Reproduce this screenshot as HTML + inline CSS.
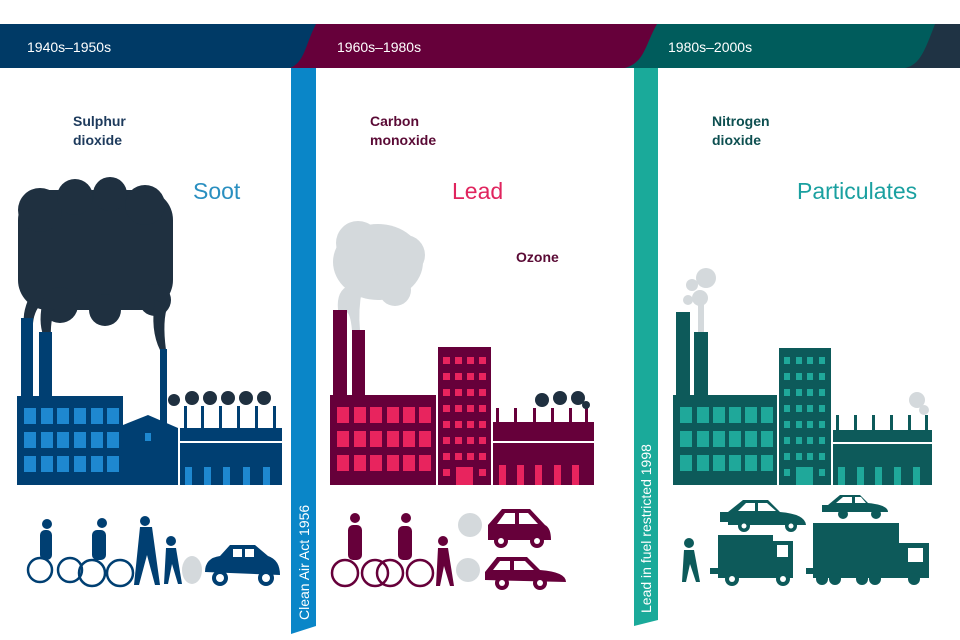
<!DOCTYPE html>
<html><head><meta charset="utf-8"><style>
html,body{margin:0;padding:0;background:#fff;width:960px;height:640px;overflow:hidden}
svg{display:block}
text{font-family:"Liberation Sans",sans-serif}
</style></head><body>
<svg width="960" height="640" viewBox="0 0 960 640" xmlns="http://www.w3.org/2000/svg">
<rect x="0" y="24" width="960" height="44" fill="#1f3344"/>
<path d="M0 24 H935 C925 50 920 65 905 68 H0Z" fill="#005c5c"/>
<path d="M0 24 H657 C645 45 645 62 625 68 H0Z" fill="#66003a"/>
<path d="M0 24 H316 C305 45 305 62 290 68 H0Z" fill="#003a66"/>
<text x="27" y="52" font-size="14" fill="#fff">1940s–1950s</text>
<text x="337" y="52" font-size="14" fill="#fff">1960s–1980s</text>
<text x="668" y="52" font-size="14" fill="#fff">1980s–2000s</text>
<path d="M291 68 H316 V626 L291 634Z" fill="#0a86c8"/>
<text transform="translate(309,620) rotate(-90)" font-size="14" fill="#fff">Clean Air Act 1956</text>
<path d="M634 68 H658 V620 L634 626Z" fill="#1aaa9a"/>
<text transform="translate(651,613) rotate(-90)" font-size="14" fill="#fff">Lead in fuel restricted 1998</text>
<g font-size="14" font-weight="bold">
<text x="73" y="126" fill="#1d3a5c">Sulphur</text><text x="73" y="145" fill="#1d3a5c">dioxide</text>
<text x="370" y="126" fill="#5a0a35">Carbon</text><text x="370" y="145" fill="#5a0a35">monoxide</text>
<text x="516" y="262" fill="#5a0a35">Ozone</text>
<text x="712" y="126" fill="#0d4f50">Nitrogen</text><text x="712" y="145" fill="#0d4f50">dioxide</text>
</g>
<text x="193" y="199" font-size="23" fill="#2a8fc0">Soot</text>
<text x="452" y="199" font-size="23" fill="#e0245e">Lead</text>
<text x="797" y="199" font-size="23" fill="#1aa0a0">Particulates</text>

<g fill="#1f3040">
<rect x="18" y="190" width="155" height="120" rx="30"/>
<circle cx="40" cy="210" r="22"/><circle cx="75" cy="197" r="18"/><circle cx="110" cy="194" r="17"/><circle cx="145" cy="205" r="20"/>
<circle cx="155" cy="300" r="16"/><circle cx="60" cy="305" r="18"/><circle cx="105" cy="310" r="16"/>
<path d="M28 300 Q20 320 27 330 h6 Q32 315 40 305Z"/><path d="M42 305 Q38 325 45 340 h6 Q50 320 55 310Z"/><path d="M155 300 Q150 330 160 350 h6 Q162 320 168 305Z"/>
<circle cx="174" cy="400" r="6"/><circle cx="192" cy="398" r="7"/><circle cx="210" cy="398" r="7"/><circle cx="228" cy="398" r="7"/><circle cx="246" cy="398" r="7"/><circle cx="264" cy="398" r="7"/>
</g>
<g fill="#003f72">
<rect x="21" y="318" width="12" height="80"/><rect x="39" y="332" width="13" height="66"/><rect x="160" y="349" width="7" height="80"/>
<rect x="17" y="396" width="106" height="89"/>
<path d="M123 425 L148 415 L178 428 V485 H123Z"/>
<rect x="180" y="428" width="102" height="57"/>
<g><rect x="184" y="406" width="3" height="22"/><rect x="201" y="406" width="3" height="22"/><rect x="219" y="406" width="3" height="22"/><rect x="237" y="406" width="3" height="22"/><rect x="255" y="406" width="3" height="22"/><rect x="273" y="406" width="3" height="22"/></g>
</g>
<rect x="180" y="441" width="102" height="2" fill="#fff"/>
<g fill="#1e88d0">
<g id="w1"><rect x="24" y="408" width="12" height="16"/><rect x="41" y="408" width="12" height="16"/><rect x="57" y="408" width="12" height="16"/><rect x="74" y="408" width="12" height="16"/><rect x="91" y="408" width="12" height="16"/><rect x="107" y="408" width="12" height="16"/></g>
<use href="#w1" y="24"/><use href="#w1" y="48"/>
<rect x="185" y="467" width="7" height="18"/><rect x="204" y="467" width="7" height="18"/><rect x="223" y="467" width="7" height="18"/><rect x="243" y="467" width="7" height="18"/><rect x="263" y="467" width="7" height="18"/>
<rect x="145" y="433" width="6" height="8"/>
</g>
<g fill="none" stroke="#003f72" stroke-width="2.5">
<circle cx="40" cy="570" r="12"/><circle cx="70" cy="570" r="12"/><circle cx="92" cy="573" r="13"/><circle cx="120" cy="573" r="13"/>
</g>
<g fill="#003f72">
<rect x="40" y="530" width="12" height="30" rx="5"/><circle cx="47" cy="524" r="5"/>
<rect x="92" y="530" width="14" height="30" rx="5"/><circle cx="102" cy="523" r="5"/>
<path d="M140 527 h12 l8 58 h-5 l-8-30 -8 30 h-5Z"/><circle cx="145" cy="521" r="5"/>
<path d="M166 548 h10 l6 36 h-4 l-6-20 -4 20 h-4Z"/><circle cx="171" cy="541" r="5"/>
<path d="M205 572 Q205 558 220 556 L230 545 H255 L268 556 Q280 560 280 575 Z"/>
<circle cx="220" cy="578" r="8"/><circle cx="266" cy="578" r="8"/>
</g>
<g fill="#fff"><circle cx="220" cy="578" r="4"/><circle cx="266" cy="578" r="4"/><rect x="233" y="549" width="9" height="8"/><rect x="245" y="549" width="9" height="8"/></g>
<ellipse cx="192" cy="570" rx="10" ry="14" fill="#d4d9dc"/>

<g fill="#d4d9dc">
<ellipse cx="378" cy="262" rx="45" ry="38"/><circle cx="358" cy="243" r="22"/><circle cx="405" cy="255" r="20"/><circle cx="395" cy="290" r="16"/>
<path d="M338 310 Q336 290 350 285 L362 290 Q358 310 360 330 H352 Q350 310 345 312Z"/>
</g>
<g fill="#66003a">
<rect x="333" y="310" width="14" height="87"/><rect x="352" y="330" width="13" height="67"/>
<rect x="330" y="395" width="106" height="90"/>
<rect x="438" y="347" width="53" height="138"/>
<rect x="493" y="422" width="101" height="63"/>
<rect x="496" y="408" width="3" height="14"/><rect x="514" y="408" width="3" height="14"/><rect x="533" y="408" width="3" height="14"/><rect x="551" y="408" width="3" height="14"/><rect x="569" y="408" width="3" height="14"/><rect x="585" y="408" width="3" height="14"/>
</g>
<rect x="493" y="441" width="101" height="2" fill="#fff"/>
<g fill="#1f3040"><circle cx="542" cy="400" r="7"/><circle cx="560" cy="398" r="7"/><circle cx="578" cy="398" r="7"/><circle cx="586" cy="405" r="4"/></g>
<g fill="#e8245e">
<g id="w2"><rect x="337" y="407" width="12" height="16"/><rect x="354" y="407" width="12" height="16"/><rect x="370" y="407" width="12" height="16"/><rect x="387" y="407" width="12" height="16"/><rect x="403" y="407" width="12" height="16"/><rect x="419" y="407" width="12" height="16"/></g>
<use href="#w2" y="24"/><use href="#w2" y="48"/>
<g id="t2"><rect x="443" y="357" width="7" height="7"/><rect x="455" y="357" width="7" height="7"/><rect x="467" y="357" width="7" height="7"/><rect x="479" y="357" width="7" height="7"/></g>
<use href="#t2" y="16"/><use href="#t2" y="32"/><use href="#t2" y="48"/><use href="#t2" y="64"/><use href="#t2" y="80"/><use href="#t2" y="96"/>
<rect x="443" y="469" width="7" height="7"/><rect x="456" y="467" width="17" height="18"/><rect x="479" y="469" width="7" height="7"/>
<rect x="499" y="465" width="7" height="20"/><rect x="517" y="465" width="7" height="20"/><rect x="535" y="465" width="7" height="20"/><rect x="554" y="465" width="7" height="20"/><rect x="572" y="465" width="7" height="20"/>
</g>
<g fill="none" stroke="#66003a" stroke-width="2.5">
<circle cx="345" cy="573" r="13"/><circle cx="375" cy="573" r="13"/><circle cx="390" cy="573" r="13"/><circle cx="420" cy="573" r="13"/>
</g>
<g fill="#66003a">
<rect x="348" y="525" width="14" height="35" rx="5"/><circle cx="355" cy="518" r="5"/>
<rect x="398" y="526" width="14" height="34" rx="5"/><circle cx="406" cy="518" r="5"/>
<path d="M438 548 h10 l6 38 h-4 l-6-20 -4 20 h-4Z"/><circle cx="443" cy="541" r="5"/>
<path d="M488 540 V525 L502 509 H530 L545 525 Q551 528 551 540Z"/><circle cx="501" cy="541" r="7"/><circle cx="537" cy="541" r="7"/>
<path d="M485 580 V572 L497 557 H527 L540 570 Q566 572 566 582 Z"/><circle cx="502" cy="583" r="7"/><circle cx="540" cy="583" r="7"/>
</g>
<g fill="#fff"><circle cx="501" cy="541" r="3"/><circle cx="537" cy="541" r="3"/><circle cx="502" cy="583" r="3"/><circle cx="540" cy="583" r="3"/>
<path d="M505 513 H515 V524 H497Z"/><path d="M519 513 H528 L538 524 H519Z"/><path d="M500 561 H510 V570 H493Z"/><path d="M514 561 H525 L534 570 H514Z"/></g>
<g fill="#d4d9dc"><ellipse cx="470" cy="525" rx="12" ry="12"/><ellipse cx="468" cy="570" rx="12" ry="12"/></g>

<g fill="#d4d9dc"><circle cx="706" cy="278" r="10"/><circle cx="700" cy="298" r="8"/><circle cx="692" cy="285" r="6"/><circle cx="688" cy="300" r="5"/><rect x="698" y="300" width="6" height="32"/><circle cx="917" cy="400" r="8"/><circle cx="924" cy="410" r="5"/></g>
<g fill="#0d5a5a">
<rect x="676" y="312" width="14" height="85"/><rect x="694" y="332" width="14" height="65"/>
<rect x="673" y="395" width="104" height="90"/>
<rect x="779" y="348" width="52" height="137"/>
<rect x="833" y="430" width="99" height="55"/>
<rect x="836" y="415" width="3" height="15"/><rect x="854" y="415" width="3" height="15"/><rect x="872" y="415" width="3" height="15"/><rect x="890" y="415" width="3" height="15"/><rect x="908" y="415" width="3" height="15"/><rect x="925" y="415" width="3" height="15"/>
</g>
<rect x="833" y="442" width="99" height="2" fill="#fff"/>
<g fill="#1fa89a">
<g id="w3"><rect x="680" y="407" width="12" height="16"/><rect x="697" y="407" width="12" height="16"/><rect x="713" y="407" width="12" height="16"/><rect x="729" y="407" width="12" height="16"/><rect x="745" y="407" width="12" height="16"/><rect x="761" y="407" width="12" height="16"/></g>
<use href="#w3" y="24"/><use href="#w3" y="48"/>
<g id="t3"><rect x="784" y="357" width="6" height="7"/><rect x="796" y="357" width="6" height="7"/><rect x="807" y="357" width="6" height="7"/><rect x="819" y="357" width="6" height="7"/></g>
<use href="#t3" y="16"/><use href="#t3" y="32"/><use href="#t3" y="48"/><use href="#t3" y="64"/><use href="#t3" y="80"/><use href="#t3" y="96"/>
<rect x="784" y="469" width="6" height="7"/><rect x="796" y="467" width="17" height="18"/><rect x="819" y="469" width="6" height="7"/>
<rect x="838" y="467" width="7" height="18"/><rect x="857" y="467" width="7" height="18"/><rect x="875" y="467" width="7" height="18"/><rect x="894" y="467" width="7" height="18"/><rect x="913" y="467" width="7" height="18"/>
</g>
<g fill="#0d5a5a">
<path d="M684 550 h10 l6 32 h-4 l-6-18 -4 18 h-4Z"/><circle cx="689" cy="543" r="5"/>
<path d="M728 525 V512 L743 500 H768 L780 512 Q805 514 806 525Z"/><path d="M720 512 h10 v10 h-10Z"/><circle cx="744" cy="526" r="6"/><circle cx="791" cy="526" r="6"/>
<path d="M828 512 V505 L840 495 H860 L868 503 Q888 505 888 512Z"/><path d="M822 505 h8 v7 h-8Z"/><circle cx="843" cy="514" r="5"/><circle cx="876" cy="514" r="5"/>
<rect x="718" y="535" width="55" height="43"/><path d="M773 541 h20 v37 h-20Z"/><circle cx="732" cy="579" r="7"/><circle cx="783" cy="579" r="7"/>
<rect x="813" y="523" width="86" height="55"/><path d="M899 543 h30 v35 h-30Z"/>
<circle cx="822" cy="579" r="6"/><circle cx="835" cy="579" r="6"/><circle cx="862" cy="579" r="6"/><circle cx="875" cy="579" r="6"/><circle cx="914" cy="579" r="6"/>
<rect x="710" y="568" width="8" height="6"/><rect x="806" y="568" width="8" height="6"/>
</g>
<g fill="#fff"><rect x="777" y="545" width="11" height="12"/><rect x="908" y="548" width="15" height="14"/>
<path d="M746 503 H755 V511 H738Z"/><path d="M758 503 H767 L776 511 H758Z"/><path d="M843 497 H852 V503 H836Z"/><path d="M855 497 H861 L866 503 H855Z"/>
<circle cx="744" cy="526" r="2.5"/><circle cx="791" cy="526" r="2.5"/><circle cx="732" cy="579" r="3"/><circle cx="783" cy="579" r="3"/></g>
</svg>
</body></html>
